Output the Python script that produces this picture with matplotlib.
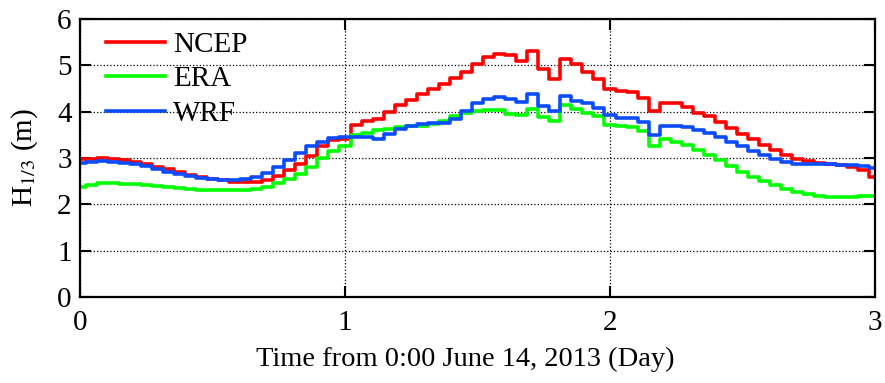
import numpy as np
import matplotlib
matplotlib.use("Agg")
import matplotlib.pyplot as plt

# hourly significant wave height (m), 0..72 h
hours = np.arange(73)

ncep = [2.98, 2.98, 2.99, 2.98, 2.96, 2.92, 2.86, 2.80, 2.76, 2.70,
        2.64, 2.60, 2.55, 2.52, 2.49, 2.48, 2.48, 2.52, 2.62, 2.74,
        2.88, 3.05, 3.25, 3.38, 3.40, 3.72, 3.80, 3.85, 4.00, 4.15,
        4.25, 4.38, 4.50, 4.60, 4.72, 4.85, 5.02, 5.18, 5.24, 5.22,
        5.10, 5.30, 4.92, 4.70, 5.14, 5.02, 4.85, 4.70, 4.50, 4.44,
        4.43, 4.30, 4.02, 4.18, 4.18, 4.10, 3.98, 3.90, 3.78, 3.65,
        3.52, 3.40, 3.28, 3.17, 3.06, 2.98, 2.93, 2.90, 2.88, 2.85,
        2.81, 2.75, 2.60]

era = [2.38, 2.42, 2.45, 2.45, 2.44, 2.43, 2.42, 2.40, 2.38, 2.35,
       2.33, 2.31, 2.30, 2.30, 2.30, 2.32, 2.34, 2.37, 2.45, 2.55,
       2.66, 2.80, 3.00, 3.15, 3.25, 3.50, 3.55, 3.60, 3.63, 3.66,
       3.68, 3.70, 3.74, 3.80, 3.90, 3.98, 4.02, 4.04, 4.03, 3.95,
       3.92, 4.06, 3.88, 3.80, 4.14, 4.06, 3.98, 3.90, 3.72, 3.70,
       3.67, 3.58, 3.26, 3.40, 3.35, 3.28, 3.18, 3.07, 2.96, 2.82,
       2.70, 2.60, 2.50, 2.42, 2.33, 2.26, 2.22, 2.17, 2.15, 2.15,
       2.16, 2.18, 2.18]

wrf = [2.90, 2.92, 2.93, 2.92, 2.90, 2.86, 2.82, 2.76, 2.70, 2.65,
       2.61, 2.57, 2.54, 2.52, 2.52, 2.54, 2.58, 2.68, 2.80, 2.95,
       3.10, 3.25, 3.35, 3.43, 3.45, 3.45, 3.45, 3.42, 3.52, 3.62,
       3.70, 3.73, 3.75, 3.76, 3.85, 4.02, 4.18, 4.28, 4.32, 4.28,
       4.20, 4.38, 4.12, 4.02, 4.34, 4.24, 4.18, 4.08, 3.92, 3.87,
       3.86, 3.78, 3.50, 3.68, 3.70, 3.66, 3.60, 3.55, 3.46, 3.35,
       3.25, 3.15, 3.06, 2.98, 2.92, 2.88, 2.87, 2.87, 2.86, 2.85,
       2.84, 2.82, 2.78]

names = ["NCEP", "ERA", "WRF"]
colors = ["#ff0000", "#00ff00", "#0a4cff"]

plt.rcParams['font.family'] = ['Liberation Serif', 'DejaVu Serif']
plt.rcParams['mathtext.fontset'] = 'stix'

fig = plt.figure(figsize=(8.85, 3.83), dpi=100)
ax = fig.add_axes([0.0904, 0.2245, 0.8983, 0.7259])

days = hours / 24.0
for y, c, n in zip([ncep, era, wrf], colors, names):
    ax.plot(days, y, color=c, lw=2.6, drawstyle='steps-mid', label=n)

ax.set_xlim(0, 3)
ax.set_ylim(0, 6)
ax.set_xticks([0, 1, 2, 3])
ax.set_yticks([0, 1, 2, 3, 4, 5, 6])
ax.grid(True, color='black', linestyle=':', linewidth=0.9)
ax.tick_params(direction='in', length=8, width=1.5, labelsize=21,
               top=True, right=True)
ax.tick_params(axis='x', pad=9)
ax.tick_params(axis='y', pad=6)
for s in ax.spines.values():
    s.set_linewidth(1.6)

ax.set_xlabel('Time from 0:00 June 14, 2013 (Day)', fontsize=20.5, labelpad=8)
ax.xaxis.label.set_x(0.485)
ax.set_ylabel(r'H$_{1/3}$ (m)', fontsize=21, labelpad=12)

ax.legend(loc='upper left', bbox_to_anchor=(0.0, 1.05), frameon=False,
          fontsize=21, handlelength=2.0, handletextpad=0.3,
          labelspacing=0.28, borderaxespad=0.5)

fig.savefig('out.png', dpi=100)
